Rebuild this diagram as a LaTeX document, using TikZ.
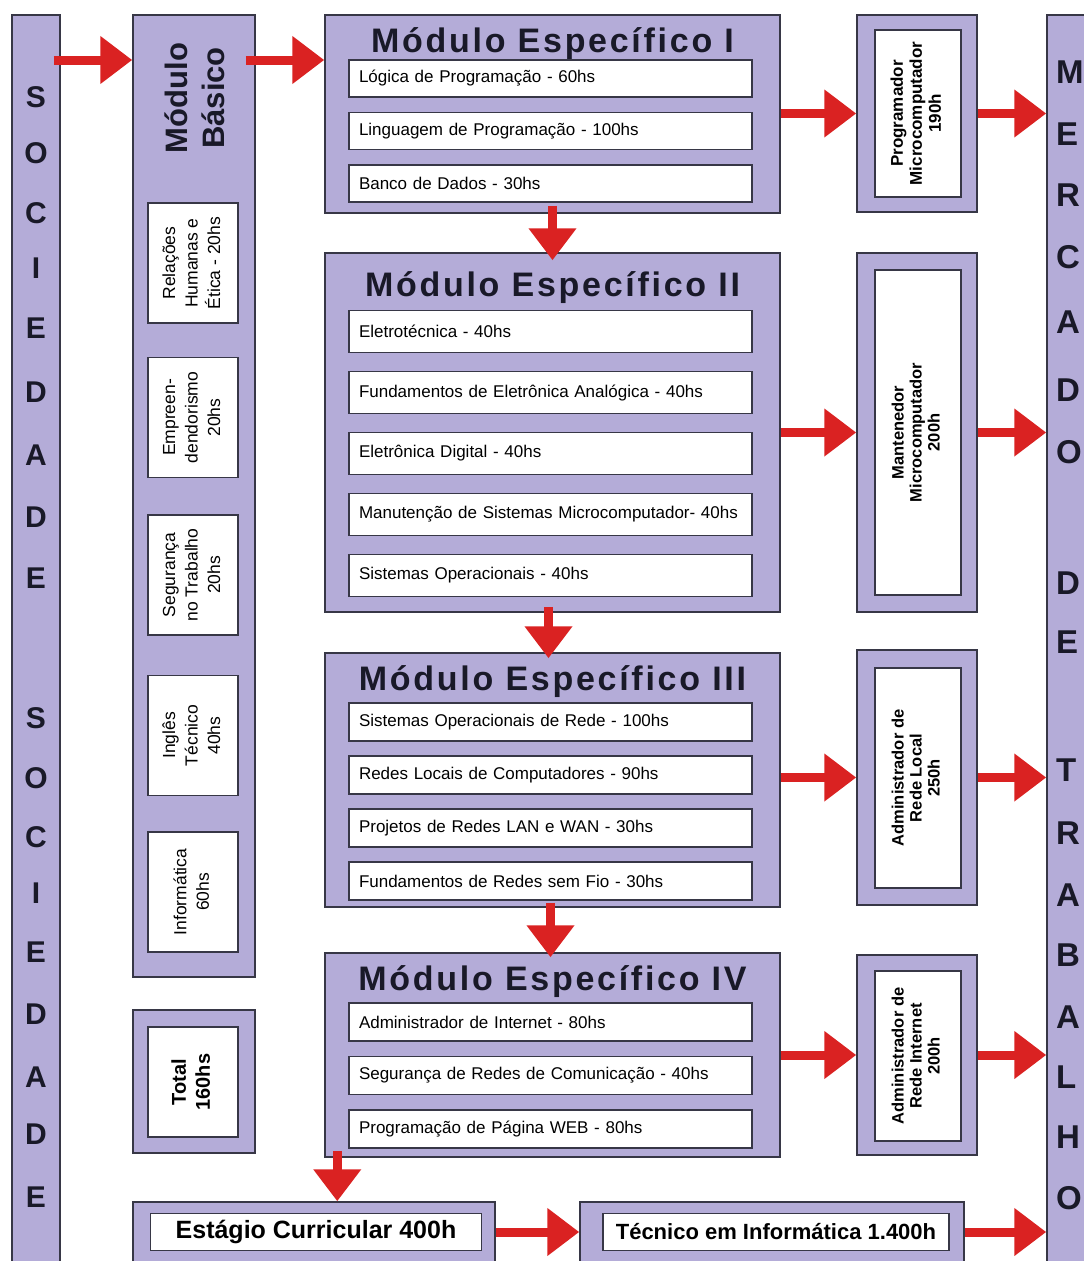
\documentclass[tikz,border=0pt]{standalone}
\usepackage{fontspec}
\setmainfont{Liberation Sans}
\usepackage{graphicx}
\usetikzlibrary{arrows.meta, positioning, calc}
\definecolor{lavanda}{RGB}{180,172,216}
\definecolor{borda}{RGB}{55,55,70}
\definecolor{vermelho}{RGB}{218,34,34}
\definecolor{letra}{RGB}{25,25,40}
\newcommand{\vtexto}[1]{\rotatebox{90}{\begin{tabular}{@{}c@{}}#1\end{tabular}}}
\tikzset{
  bloco/.style={rectangle, draw=borda, line width=1.5pt, fill=lavanda, inner sep=0pt},
  caixa/.style={rectangle, draw=borda, line width=1.5pt, fill=white, inner sep=0pt},
  disciplina/.style={caixa, minimum width=403pt, minimum height=37pt, text width=383pt,
    inner xsep=10pt, align=left, font=\fontsize{17}{20}\selectfont},
  basica/.style={caixa, minimum width=90pt, minimum height=120pt, font=\fontsize{17.5}{22.5}\selectfont},
  perfil/.style={caixa, minimum width=86pt, font=\fontsize{16.5}{18}\selectfont\bfseries},
  titulo/.style={anchor=base, inner sep=0pt, text=letra,
    font=\fontsize{34}{36}\selectfont\bfseries\addfontfeature{LetterSpace=8}},
  letrasoc/.style={inner sep=0pt, text=letra, font=\fontsize{30}{30}\selectfont\bfseries},
  letramer/.style={inner sep=0pt, anchor=west, text=letra, font=\fontsize{33}{33}\selectfont\bfseries},
  seta/.style={draw=vermelho, line width=9pt, -{Triangle[length=32pt,width=46pt]}}
}

\begin{document}
\begin{tikzpicture}[x=1pt, y=-1pt]
\useasboundingbox (0,0) rectangle (1084,1261);

% barras laterais
\node[bloco, minimum width=48pt, minimum height=1275pt] (soc) at (36,652.5) {};
\node[bloco, minimum width=73pt, minimum height=1275pt] (merc) at (1083.5,652.5) {};
\foreach \l/\y [count=\i] in {S/97,O/153,C/213,I/268,E/328,D/392,A/455,D/517,E/578,
  S/718,O/778,C/837,I/893,E/952,D/1014,A/1077,D/1134,E/1197}
  \node[letrasoc] (soc\i) at (36,\y) {\l};
\foreach \l/\y [count=\i] in {M/72,E/134,R/195,C/257,A/322,D/390,O/452,D/583,E/642,
  T/770,R/833,A/895,B/955,A/1017,L/1077,H/1137,O/1198}
  \node[letramer] (merc\i) at (1056,\y) {\l};
\coordinate (linhatopo) at (0,60);

% modulo basico
\node[bloco, minimum width=122pt, minimum height=962pt] (bas) at (194,496) {};
\node[inner sep=0pt, text=letra, font=\fontsize{31}{37}\selectfont\bfseries] (bastit) at (199,98)
  {\vtexto{Módulo\\Básico}};
\node[basica] (relacoes) at (193,263) {\vtexto{Relações\\Humanas e\\Ética - 20hs}};
\node[basica, below=33pt of relacoes] (empreen) {\vtexto{Empreen-\\dendorismo\\20hs}};
\node[basica, below=36pt of empreen] (seguranca) {\vtexto{Segurança\\no Trabalho\\20hs}};
\node[basica, below=39pt of seguranca] (ingles) {\vtexto{Inglês\\Técnico\\40hs}};
\node[basica, below=35pt of ingles] (informatica) {\vtexto{Informática\\60hs}};

\node[bloco, minimum width=122pt, minimum height=143pt] (tot) at (194,1081.5) {};
\node[caixa, minimum width=90pt, minimum height=110pt, font=\fontsize{20}{24}\selectfont\bfseries]
  (totin) at (193,1082) {\vtexto{Total\\160hs}};

% modulos especificos
\node[bloco, minimum width=455pt, minimum height=198pt] (meI) at (552.5,114) {};
\node[titulo] (meItit) at (552.5,52) {Módulo Específico I};
\node[disciplina] (logica) at (550.5,78.5) {Lógica de Programação - 60hs};
\node[disciplina, below=14pt of logica] (linguagem) {Linguagem de Programação - 100hs};
\node[disciplina, below=14pt of linguagem] (banco) {Banco de Dados - 30hs};

\node[bloco, minimum width=455pt, minimum height=359pt] (meII) at (552.5,432.5) {};
\node[titulo] (meIItit) at (552.5,296) {Módulo Específico II};
\node[disciplina, minimum height=42pt] (eletrotec) at (550.5,331.5) {Eletrotécnica - 40hs};
\node[disciplina, minimum height=42pt, below=17.5pt of eletrotec] (analogica)
  {Fundamentos de Eletrônica Analógica - 40hs};
\node[disciplina, minimum height=42pt, below=17.5pt of analogica] (digital) {Eletrônica Digital - 40hs};
\node[disciplina, minimum height=42pt, below=17.5pt of digital] (manutencao)
  {Manutenção de Sistemas Microcomputador- 40hs};
\node[disciplina, minimum height=42pt, below=17.5pt of manutencao] (sisop) {Sistemas Operacionais - 40hs};

\node[bloco, minimum width=455pt, minimum height=254pt] (meIII) at (552.5,780) {};
\node[titulo] (meIIItit) at (552.5,690) {Módulo Específico III};
\node[disciplina, minimum height=38pt] (sisrede) at (550.5,722) {Sistemas Operacionais de Rede - 100hs};
\node[disciplina, minimum height=38pt, below=13.5pt of sisrede] (locais) {Redes Locais de Computadores - 90hs};
\node[disciplina, minimum height=38pt, below=13.5pt of locais] (lanwan) {Projetos de Redes LAN e WAN - 30hs};
\node[disciplina, minimum height=38pt, below=13.5pt of lanwan] (semfio) {Fundamentos de Redes sem Fio - 30hs};

\node[bloco, minimum width=455pt, minimum height=204pt] (meIV) at (552.5,1055) {};
\node[titulo] (meIVtit) at (552.5,990) {Módulo Específico IV};
\node[disciplina, minimum height=38pt] (adminet) at (550.5,1022) {Administrador de Internet - 80hs};
\node[disciplina, minimum height=38pt, below=14pt of adminet] (segredes)
  {Segurança de Redes de Comunicação - 40hs};
\node[disciplina, minimum height=38pt, below=14pt of segredes] (web) {Programação de Página WEB - 80hs};

% perfis de saida
\node[bloco, minimum width=120pt, minimum height=197pt] (prog) at (917,113.5) {};
\node[perfil, minimum height=167pt, font=\fontsize{17}{19}\selectfont\bfseries] (progin) at (918,113.5)
  {\vtexto{Programador\\Microcomputador\\190h}};
\node[bloco, minimum width=120pt, minimum height=359pt] (mant) at (917,432.5) {};
\node[perfil, minimum height=325pt] (mantin) at (918,432.5) {\vtexto{Mantenedor\\Microcomputador\\200h}};
\node[bloco, minimum width=120pt, minimum height=255pt] (admloc) at (917,777.5) {};
\node[perfil, minimum height=220pt] (admlocin) at (918,778) {\vtexto{Administrador de\\Rede Local\\250h}};
\node[bloco, minimum width=120pt, minimum height=200pt] (admint) at (917,1055) {};
\node[perfil, minimum height=170pt] (admintin) at (918,1056) {\vtexto{Administrador de\\Rede Internet\\200h}};

% estagio e tecnico
\node[bloco, minimum width=362pt, minimum height=88pt] (est) at (314,1246) {};
\node[caixa, minimum width=331pt, minimum height=37pt, font=\fontsize{25}{28}\selectfont\bfseries]
  (estin) at (316,1232) {Estágio Curricular 400h};
\node[bloco, minimum width=384pt, minimum height=88pt] (tec) at (772,1246) {};
\node[caixa, minimum width=346pt, minimum height=37pt, font=\fontsize{22}{26}\selectfont\bfseries]
  (tecin) at (776,1232) {Técnico em Informática 1.400h};

% setas
\draw[seta, shorten <=-7pt] (soc.east |- linhatopo) -- (bas.west |- linhatopo);
\draw[seta, shorten <=-10pt] (bas.east |- linhatopo) -- (meI.west |- linhatopo);
\draw[seta] (meI.east |- prog) -- (prog.west);
\draw[seta] (meII.east |- mant) -- (mant.west);
\draw[seta] (meIII.east |- admloc) -- (admloc.west);
\draw[seta] (meIV.east |- admint) -- (admint.west);
\draw[seta] (prog.east) -- (merc.west |- prog);
\draw[seta] (mant.east) -- (merc.west |- mant);
\draw[seta] (admloc.east) -- (merc.west |- admloc);
\draw[seta] (admint.east) -- (merc.west |- admint);
\draw[seta, shorten <=-8pt, shorten >=-8pt] (meI.south) -- (meII.north);
\draw[seta, shorten <=-6pt, shorten >=-6pt] ([xshift=-4pt]meII.south) -- ([xshift=-4pt]meIII.north);
\draw[seta, shorten <=-5pt, shorten >=-5pt] ([xshift=-2pt]meIII.south) -- ([xshift=-2pt]meIV.north);
\draw[seta, shorten <=-7pt] ([xshift=13pt]meIV.south west) -- ([xshift=13pt]meIV.south west |- est.north);
\draw[seta] (est.east |- estin) -- (tec.west |- estin);
\draw[seta] (tec.east |- tecin) -- (merc.west |- tecin);

\end{tikzpicture}
\end{document}
